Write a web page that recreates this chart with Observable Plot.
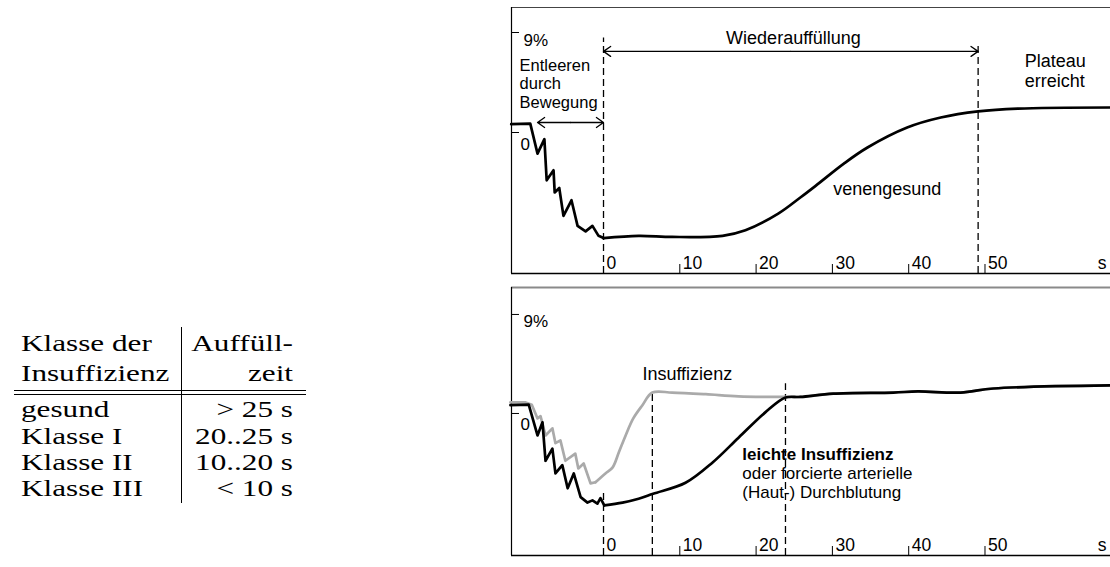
<!DOCTYPE html>
<html><head><meta charset="utf-8">
<script src="https://cdn.jsdelivr.net/npm/d3@7"></script>
<script src="https://cdn.jsdelivr.net/npm/@observablehq/plot@0.6"></script>
<style>
html,body{margin:0;padding:0;background:#fff;}
#root{position:relative;width:1110px;height:567px;overflow:hidden;background:#fff;}
#table{position:absolute;left:0;top:0;}
#top{position:absolute;left:505px;top:0;}
#bottom{position:absolute;left:505px;top:281px;}
svg{display:block;overflow:visible;}
</style></head>
<body><div id="root"><div id="table"></div><div id="top"></div><div id="bottom"></div></div>
<script>
// ---------- data ----------
// x: seconds after end of movement; y: relative volume change (%)
const xTicks = [0, 10, 20, 30, 40, 50];
const xTickLabels = ["0", "10", "20", "30", "40", "50"];
const xUnit = "s";
const yTicks = [9, 0];
const yTickLabels = ["9%", "0"];

// top panel: healthy veins
const healthyT = [-12.1, -9.6, -8.65, -7.75, -7.45, -6.55, -6.4, -5.8, -5.25, -4.2, -3.4, -2.35, -1.45, -0.65, 0,
                  4.6, 9.0, 15.6, 18.6, 22.9, 25.8, 27.8, 31.5, 34.6, 39.8, 44.2, 49.1, 54.3, 66.4];
const healthyV = [0.75, 0.8, -1.9, -0.6, -4.3, -3.4, -5.4, -5.0, -7.5, -6.1, -8.4, -8.9, -8.4, -9.3, -9.5,
                  -9.3, -9.4, -9.3, -8.8, -7.3, -5.85, -4.8, -2.8, -1.35, 0.45, 1.35, 1.9, 2.15, 2.25];

// bottom panel: mild insufficiency (black) and insufficiency (grey)
const mildT = [-12.2, -9.8, -8.65, -8.0, -7.6, -6.7, -6.3, -5.4, -4.7, -3.9, -3.0, -2.1, -1.45, -0.8, -0.4, 0.1,
               2.5, 4.6, 6.5, 10.75, 14.3, 17.7, 21.2, 23.85, 25.8, 30.1, 38.0, 41.2, 46.8, 51.1, 66.4];
const mildV = [0.75, 0.8, -2.0, -0.8, -4.3, -3.2, -5.45, -4.7, -6.8, -5.45, -7.6, -8.1, -7.9, -8.2, -7.7, -8.35,
               -8.1, -7.75, -7.3, -6.3, -4.45, -2.2, 0.1, 1.45, 1.5, 1.8, 1.9, 2.0, 1.9, 2.27, 2.55];
const insuffT = [-12.2, -10.2, -9.4, -8.65, -8.25, -7.6, -6.7, -6.3, -5.65, -5.0, -3.7, -3.3, -2.6, -1.7, -1.05,
                 0.25, 1.2, 2.0, 2.9, 3.9, 5.1, 6.4, 9.0, 13.4, 17.7, 23.85, 25.8, 30.1, 38.0, 41.2, 46.8, 51.1, 66.4];
const insuffV = [1.0, 1.0, 0.8, -0.45, -0.25, -2.0, -1.35, -2.7, -2.45, -4.3, -3.65, -5.0, -4.55, -6.35, -6.25,
                 -5.45, -4.9, -3.55, -2.0, -0.45, 0.75, 1.9, 1.9, 1.75, 1.55, 1.5, 1.5, 1.8, 1.9, 2.0, 1.9, 2.27, 2.55];

// dashed phase markers: time and upper end
const topMarkerT = [0, 49.1];
const topMarkerTop = [8.5, 7.8];
const bottomMarkerT = [0, 6.4, 23.85];
const bottomMarkerTop = [-7.0, 1.85, 2.7];

// double arrows: [from, to, level]
const topArrows = [[-8.65, 0, 0.9], [0, 49.1, 7.3]];

// annotations
const topNotes = [
  {t: 24.9, v: 7.95, text: "Wiederauffüllung", anchor: "middle", size: 18, weight: "normal"},
  {t: -11.0, v: 2.25, text: "Entleeren\ndurch\nBewegung", anchor: "start", size: 16.5, weight: "normal"},
  {t: 55.2, v: 4.1, text: "Plateau\nerreicht", anchor: "start", size: 18, weight: "normal"},
  {t: 30.1, v: -5.6, text: "venengesund", anchor: "start", size: 18, weight: "normal"}
];
const bottomNotes = [
  {t: 5.1, v: 3.0, text: "Insuffizienz", anchor: "start", size: 18, weight: "normal"},
  {t: 18.2, v: -4.2, text: "leichte Insuffizienz", anchor: "start", size: 17, weight: "bold"},
  {t: 18.2, v: -7.65, text: "oder forcierte arterielle\n(Haut-) Durchblutung", anchor: "start", size: 17, weight: "normal"}
];

// table
const tableHead1 = ["Klasse der", "Auffüll-"];
const tableHead2 = ["Insuffizienz", "zeit"];
const classes = ["gesund", "Klasse I", "Klasse II", "Klasse III"];
const fillTimes = ["> 25 s", "20..25 s", "10..20 s", "< 10 s"];

// ---------- helpers ----------
const xDomain = [-12.06, 66.45];
const toRows = (T, V) => T.map((t, i) => ({t, v: V[i]}));
const FONT = "Liberation Sans, Arial, Helvetica, sans-serif";

function panel({height, marginTop, marginBottom, yDomain, series, markers, arrows, notes}) {
  const width = 605, marginLeft = 6, marginRight = 0;
  const [x0, x1] = xDomain, [y0, y1] = yDomain;
  const pxX = (width - marginLeft - marginRight) / (x1 - x0);
  const pxY = (height - marginTop - marginBottom) / (y1 - y0);
  const marks = [
    Plot.ruleY([y1], {stroke: series.topStroke, strokeWidth: series.topWidth}),
    Plot.ruleX([x0], {stroke: "#000", strokeWidth: 1.2}),
    Plot.ruleY([y0], {stroke: "#000", strokeWidth: 1.4}),
    // y ticks + labels
    Plot.ruleY(yTicks, {y: d => d, x1: x0, x2: x0 + 8 / pxX, stroke: "#000", strokeWidth: 1}),
    Plot.text([yTicks[0]], {x: x0, y: d => d, text: [yTickLabels[0]], dx: 12, dy: 13, textAnchor: "start", lineAnchor: "bottom", fontSize: 17, fontFamily: FONT, fill: "#000"}),
    Plot.text([yTicks[1]], {x: x0, y: d => d, text: [yTickLabels[1]], dx: 9, dy: 17, textAnchor: "start", lineAnchor: "bottom", fontSize: 17, fontFamily: FONT, fill: "#000"}),
    // x ticks + labels
    Plot.ruleX(xTicks.filter(d => d > 0), {x: d => d, y1: y0, y2: y0 + 9 / pxY, stroke: "#000", strokeWidth: 1}),
    Plot.text(xTicks, {x: d => d, y: y0, text: (d, i) => xTickLabels[i], dx: 3, dy: -5, textAnchor: "start", lineAnchor: "bottom", fontSize: 17.5, fontFamily: FONT, fill: "#000"}),
    Plot.text([xUnit], {x: x1, y: y0, text: d => d, dx: -4, dy: -5, textAnchor: "end", lineAnchor: "bottom", fontSize: 17.5, fontFamily: FONT, fill: "#000"}),
    // dashed markers
    Plot.ruleX(markers.t.map((t, i) => ({t, top: markers.top[i]})), {x: "t", y1: y0, y2: "top", stroke: "#000", strokeWidth: 1.3, strokeDasharray: "7,4"})
  ];
  for (const s of series.lines) {
    const rows = toRows(s.T, s.V);
    marks.push(Plot.line(rows.filter(d => d.t <= s.split), {x: "t", y: "v", stroke: s.color, strokeWidth: 2.7, curve: "linear", strokeLinejoin: "round", strokeLinecap: "round"}));
    marks.push(Plot.line(rows.filter(d => d.t >= s.split), {x: "t", y: "v", stroke: s.color, strokeWidth: 2.7, curve: "catmull-rom", strokeLinejoin: "round", strokeLinecap: "round"}));
  }
  for (const [a, b, lvl] of arrows) {
    const mid = (a + b) / 2;
    marks.push(Plot.arrow([{x1: mid, x2: a, y: lvl}, {x1: mid, x2: b, y: lvl}], {x1: "x1", x2: "x2", y1: "y", y2: "y", stroke: "#000", strokeWidth: 1.3, headLength: 10, headAngle: 70}));
  }
  for (const n of notes) {
    marks.push(Plot.text([n], {x: "t", y: "v", text: "text", textAnchor: n.anchor, lineAnchor: "bottom", fontSize: n.size, fontWeight: n.weight, fontFamily: FONT, lineHeight: 1.1, fill: "#000"}));
  }
  return Plot.plot({
    width, height, marginLeft, marginRight, marginTop, marginBottom,
    style: {fontFamily: FONT, background: "transparent", overflow: "visible"},
    x: {domain: xDomain, axis: null},
    y: {domain: yDomain, axis: null},
    marks
  });
}

document.getElementById("top").append(panel({
  height: 281, marginTop: 7, marginBottom: 8, yDomain: [-12.69, 11.25],
  series: {topStroke: "#444", topWidth: 1.2, lines: [{T: healthyT, V: healthyV, color: "#000", split: 0}]},
  markers: {t: topMarkerT, top: topMarkerTop},
  arrows: topArrows,
  notes: topNotes
}));

document.getElementById("bottom").append(panel({
  height: 286, marginTop: 6, marginBottom: 12, yDomain: [-12.91, 11.45],
  series: {topStroke: "#8a8a8a", topWidth: 2.2, lines: [
    {T: insuffT, V: insuffV, color: "#aaaaaa", split: -1.05},
    {T: mildT, V: mildV, color: "#000", split: 0.1}
  ]},
  markers: {t: bottomMarkerT, top: bottomMarkerTop},
  arrows: [],
  notes: bottomNotes
}));

// ---------- table ----------
(function () {
  const svg = d3.select("#table").append("svg").attr("width", 505).attr("height", 567);
  const serif = "Liberation Serif, Times New Roman, serif";
  const sx = 1.3, fs = 24;
  const col1 = 21, col2 = 293, vx = 181.5;
  const headY = [351, 381], bodyY = [417, 444, 470, 496];
  const put = (txt, x, y, anchor) => svg.append("text")
    .attr("transform", `translate(${x},${y}) scale(${sx},1)`)
    .attr("text-anchor", anchor).attr("font-family", serif).attr("font-size", fs).attr("fill", "#000").text(txt);
  put(tableHead1[0], col1, headY[0], "start"); put(tableHead1[1], col2, headY[0], "end");
  put(tableHead2[0], col1, headY[1], "start"); put(tableHead2[1], col2, headY[1], "end");
  classes.forEach((c, i) => { put(c, col1, bodyY[i], "start"); put(fillTimes[i], col2, bodyY[i], "end"); });
  svg.append("line").attr("x1", vx).attr("x2", vx).attr("y1", 327).attr("y2", 503).attr("stroke", "#000").attr("stroke-width", 1);
  [390, 394].forEach(y => svg.append("line").attr("x1", 14).attr("x2", 306).attr("y1", y + 0.5).attr("y2", y + 0.5).attr("stroke", "#000").attr("stroke-width", 1));
})();
</script>
</body></html>
